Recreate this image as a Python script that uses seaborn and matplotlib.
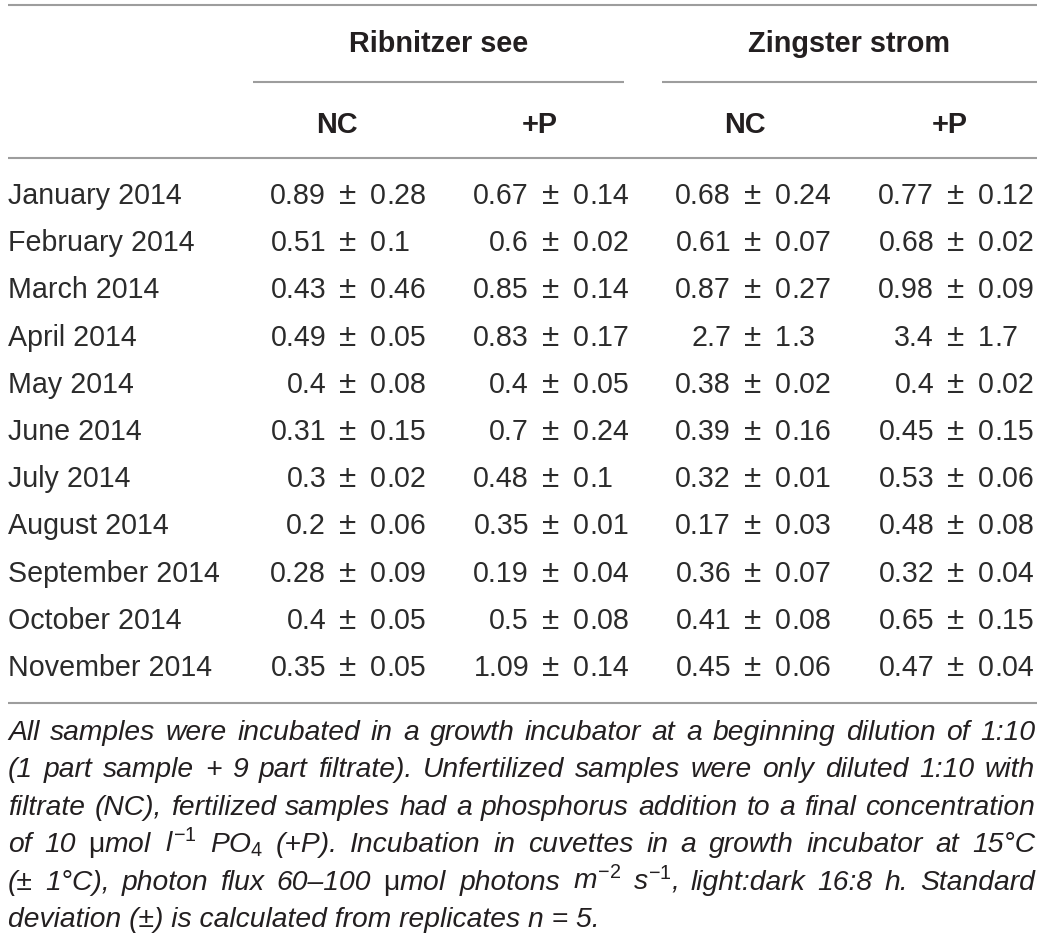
import numpy as np
import pandas as pd
import seaborn as sns
import matplotlib.pyplot as plt

# table contents
months = ['January 2014', 'February 2014', 'March 2014', 'April 2014', 'May 2014',
          'June 2014', 'July 2014', 'August 2014', 'September 2014', 'October 2014',
          'November 2014']
sites = ['Ribnitzer see', 'Zingster strom']
treatments = ['NC', '+P']

rib_nc_mean = [0.89, 0.51, 0.43, 0.49, 0.4, 0.31, 0.3, 0.2, 0.28, 0.4, 0.35]
rib_nc_sd = [0.28, 0.1, 0.46, 0.05, 0.08, 0.15, 0.02, 0.06, 0.09, 0.05, 0.05]
rib_p_mean = [0.67, 0.6, 0.85, 0.83, 0.4, 0.7, 0.48, 0.35, 0.19, 0.5, 1.09]
rib_p_sd = [0.14, 0.02, 0.14, 0.17, 0.05, 0.24, 0.1, 0.01, 0.04, 0.08, 0.14]
zin_nc_mean = [0.68, 0.61, 0.87, 2.7, 0.38, 0.39, 0.32, 0.17, 0.36, 0.41, 0.45]
zin_nc_sd = [0.24, 0.07, 0.27, 1.3, 0.02, 0.16, 0.01, 0.03, 0.07, 0.08, 0.06]
zin_p_mean = [0.77, 0.68, 0.98, 3.4, 0.4, 0.45, 0.53, 0.48, 0.32, 0.65, 0.47]
zin_p_sd = [0.12, 0.02, 0.09, 1.7, 0.02, 0.15, 0.06, 0.08, 0.04, 0.15, 0.04]

footnote = [
    'All samples were incubated in a growth incubator at a beginning dilution of 1:10',
    '(1 part sample + 9 part filtrate). Unfertilized samples were only diluted 1:10 with',
    'filtrate (NC), fertilized samples had a phosphorus addition to a final concentration',
    r'of 10 $\mathrm{\mu}$mol $\mathit{l}^{-1}$ $\mathit{PO}_{4}$ (+P). Incubation in cuvettes in a growth incubator at 15°C',
    r'(± 1°C), photon flux 60–100 $\mathrm{\mu}$mol photons $\mathit{m}^{-2}$ $\mathit{s}^{-1}$, light:dark 16:8 h. Standard',
    'deviation (±) is calculated from replicates n = 5.',
]

sns.set_theme(style='white')
plt.rcParams['font.family'] = ['Liberation Sans', 'DejaVu Sans']
plt.rcParams['mathtext.fontset'] = 'custom'
plt.rcParams['mathtext.rm'] = 'Liberation Sans'
plt.rcParams['mathtext.it'] = 'Liberation Sans:italic'
plt.rcParams['mathtext.bf'] = 'Liberation Sans:bold'

W, H = 1043, 938
fig = plt.figure(figsize=(W / 100, H / 100), dpi=100)
ax = fig.add_axes([0, 0, 1, 1])
ax.set_xlim(0, W)
ax.set_ylim(H, 0)
ax.axis('off')
renderer = fig.canvas.get_renderer()

ink = '#231f20'
body_ink = '#2b2b2b'
rule = '#9d9d9d'
fs = 20.6
fs_head = 20.8
fs_note = 20.3


def width(t):
    bb = t.get_window_extent(renderer)
    return bb.width


# rules
ax.hlines([5, 158, 703], 8, 1037, color=rule, lw=1.5)
ax.hlines([82, 82], [253, 662], [624, 1037], color=rule, lw=1.5)

# headers
for name, xc in zip(sites, [439, 849]):
    ax.text(xc, 52, name, ha='center', va='baseline', fontsize=fs_head, fontweight='bold', color=ink)
for tr, xc in zip(treatments * 2, [337, 540, 745, 950]):
    ax.text(xc, 133, tr, ha='center', va='baseline', fontsize=fs_head, fontweight='bold', color=ink)

# body
row_base = 204 + 47.2 * np.arange(len(months))
for m, yb in zip(months, row_base):
    ax.text(8, yb, m, ha='left', va='baseline', fontsize=fs, color=body_ink)

# entries aligned on the decimal point of the SD
columns = [(rib_nc_mean, rib_nc_sd, 386), (rib_p_mean, rib_p_sd, 589),
           (zin_nc_mean, zin_nc_sd, 791), (zin_p_mean, zin_p_sd, 994)]
for means, sds, dot_x in columns:
    for mu, sd, yb in zip(means, sds, row_base):
        ip, fp = str(sd).split('.')
        t_int = ax.text(dot_x, yb, ip, ha='right', va='baseline', fontsize=fs, color=body_ink)
        ax.text(dot_x, yb, '.' + fp, ha='left', va='baseline', fontsize=fs, color=body_ink)
        left = dot_x - width(t_int)
        ax.text(left - 22.5, yb, '±', ha='center', va='baseline', fontsize=fs * 1.1,
                color=body_ink)
        ax.text(left - 44, yb, str(mu), ha='right', va='baseline', fontsize=fs, color=body_ink)

# justified footnote
x0, x1 = 8, 1035
fn_base = 740 + 37.4 * np.arange(len(footnote))
for i, (line, yb) in enumerate(zip(footnote, fn_base)):
    words = line.split(' ')
    if i == len(footnote) - 1:
        ax.text(x0, yb, line, ha='left', va='baseline', fontsize=fs_note, style='italic', color=ink)
        continue
    texts = [ax.text(x0, yb, w, ha='left', va='baseline', fontsize=fs_note, style='italic', color=ink)
             for w in words]
    widths = [width(t) for t in texts]
    gap = (x1 - x0 - sum(widths)) / (len(words) - 1)
    x = x0
    for t, w in zip(texts, widths):
        t.set_x(x)
        x += w + gap

fig.savefig('out.png', dpi=100)
